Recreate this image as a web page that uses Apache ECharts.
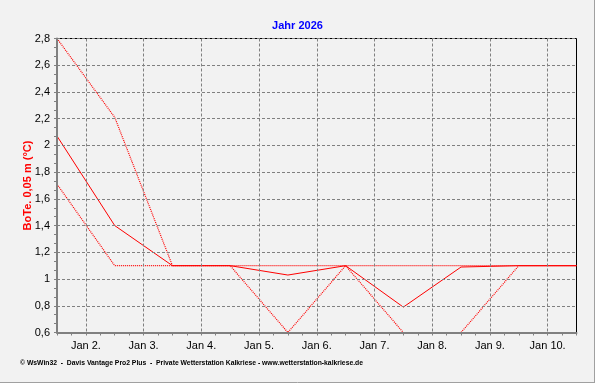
<!DOCTYPE html>
<html>
<head>
<meta charset="utf-8">
<script src="https://cdn.jsdelivr.net/npm/echarts@6/dist/echarts.min.js"></script>
<style>
html,body{margin:0;padding:0;background:#f2f2f2;}
#c{width:595px;height:383px;}
</style>
</head>
<body>
<div id="c"></div>
<script>
// Tick labels of the x axis (day boundaries)
var xLabels = ['Jan 2.', 'Jan 3.', 'Jan 4.', 'Jan 5.', 'Jan 6.', 'Jan 7.', 'Jan 8.', 'Jan 9.', 'Jan 10.'];
// Day index of each daily value (0 = Jan 1, noon)
var dayIndex = [0, 1, 2, 3, 4, 5, 6, 7, 8, 9];
// Daily mean, max and min soil temperature at 0.05 m (°C)
var meanVals = [2.07, 1.40, 1.10, 1.10, 1.03, 1.10, 0.79, 1.09, 1.10, 1.10];
var maxVals  = [2.80, 2.21, 1.10, 1.10, 1.10, 1.10, 1.10, 1.10, 1.10, 1.10];
var minVals  = [1.71, 1.10, 1.10, 1.10, 0.60, 1.10, 0.60, 0.60, 1.10, 1.10];

var titleText = 'Jahr 2026';
var yName = 'BoTe. 0,05 m (°C)';
var footer = '\u00A9 WsWin32  -  Davis Vantage Pro2 Plus  -  Private Wetterstation Kalkriese - www.wetterstation-kalkriese.de';

// quarter-day categories for ticks / grid / labels
var cats = [];
for (var i = 0; i <= 36; i++) {
  cats.push(i % 4 === 2 ? xLabels[(i - 2) / 4] : '');
}
function pairs(arr) { return arr.map(function (v, k) { return [dayIndex[k], v]; }); }

var gray = '#808080';
var chart = echarts.init(document.getElementById('c'));
chart.setOption({
  backgroundColor: '#f2f2f2',
  animation: false,
  title: {
    text: titleText, left: 'center', top: 15,
    textStyle: { color: '#0000ff', fontSize: 11, fontWeight: 'bold', fontFamily: 'Liberation Sans' }
  },
  grid: {
    left: 57, right: 18.5, top: 38.5, bottom: 50.5,
    show: true, borderColor: '#000', borderWidth: 1, backgroundColor: 'transparent'
  },
  xAxis: [{
    type: 'category', data: cats, boundaryGap: false, position: 'bottom', z: 3,
    axisLine: { show: true, lineStyle: { color: gray, width: 2 } },
    axisTick: { show: true, interval: 0, length: 3, lineStyle: { color: gray } },
    axisLabel: { interval: 0, margin: 8, color: '#000', fontSize: 11, fontFamily: 'Liberation Sans' },
    splitLine: { show: true, interval: function (idx) { return idx % 4 === 2; },
      lineStyle: { color: gray, type: [3, 2], width: 1 } }
  }, {
    type: 'value', min: 0, max: 9, show: false
  }],
  yAxis: {
    type: 'value', min: 0.6, max: 2.8, interval: 0.2, z: 3,
    name: yName, nameLocation: 'middle', nameRotate: 90, nameGap: 24, nameMoveOverlap: false,
    nameTextStyle: { color: '#ff0000', fontSize: 11, fontWeight: 'bold', fontFamily: 'Liberation Sans' },
    axisLine: { show: true, lineStyle: { color: gray, width: 2 } },
    axisTick: { show: true, length: 3, lineStyle: { color: gray } },
    minorTick: { show: true, splitNumber: 3, length: 3, lineStyle: { color: gray } },
    axisLabel: { margin: 7, color: '#000', fontSize: 11, fontFamily: 'Liberation Sans',
      formatter: function (v) { return String(Number(v.toFixed(1))).replace('.', ','); } },
    splitLine: { show: true, lineStyle: { color: gray, type: [3, 2], width: 1 } }
  },
  series: [{
    type: 'line', xAxisIndex: 1, data: pairs(maxVals), showSymbol: false, z: 2,
    lineStyle: { color: '#ff0000', width: 1.2, type: [1, 1] }
  }, {
    type: 'line', xAxisIndex: 1, data: pairs(minVals), showSymbol: false, z: 2,
    lineStyle: { color: '#ff0000', width: 1.2, type: [1, 1] }
  }, {
    type: 'line', xAxisIndex: 1, data: pairs(meanVals), showSymbol: false, z: 2,
    lineStyle: { color: '#ff0000', width: 1, type: 'solid' }
  }],
  graphic: [{
    type: 'text', left: 20, top: 360,
    style: { text: footer, fill: '#000', font: 'bold 6.8px "Liberation Sans"' }
  }, {
    type: 'line', shape: { x1: 594.5, y1: 0, x2: 594.5, y2: 383 }, style: { stroke: '#a0a0a0', lineWidth: 1 }
  }, {
    type: 'line', shape: { x1: 0, y1: 382.5, x2: 595, y2: 382.5 }, style: { stroke: '#a0a0a0', lineWidth: 1 }
  }]
});
</script>
</body>
</html>
